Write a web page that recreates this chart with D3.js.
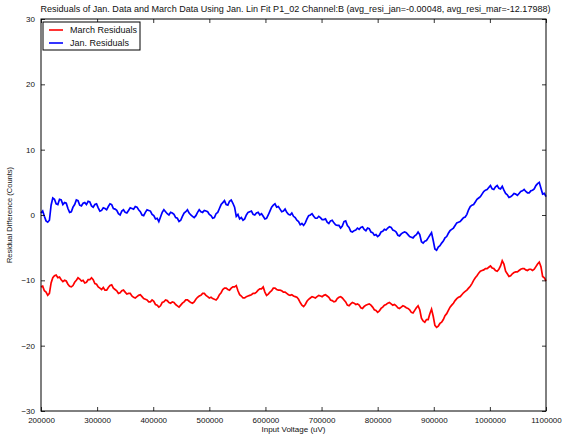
<!DOCTYPE html>
<html><head><meta charset="utf-8">
<script src="https://cdn.jsdelivr.net/npm/d3@7"></script>
<style>body{margin:0;background:#fff}svg{display:block}text{font-family:"Liberation Sans",Arial,sans-serif;fill:#111}</style>
</head><body><svg id="c" width="562" height="436"></svg>
<script>
const title = "Residuals of Jan. Data and March Data Using Jan. Lin Fit P1_02 Channel:B (avg_resi_jan=-0.00048, avg_resi_mar=-12.17988)";
const xLabel = "Input Voltage (uV)";
const yLabel = "Residual Difference (Counts)";
const seriesNames = ["March Residuals", "Jan. Residuals"];
const xTicks = [200000,300000,400000,500000,600000,700000,800000,900000,1000000,1100000];
const yTicks = [-30,-20,-10,0,10,20,30];
const voltage = [
200000,203000,206000,209000,212000,215000,218000,221000,224000,227000,230000,233000,236000,239000,242000,245000,248000,251000,254000,257000,
260000,263000,266000,269000,272000,275000,278000,281000,284000,287000,290000,293000,296000,299000,302000,305000,308000,311000,314000,317000,
320000,323000,326000,329000,332000,335000,338000,341000,344000,347000,350000,353000,356000,359000,362000,365000,368000,371000,374000,377000,
380000,383000,386000,389000,392000,395000,398000,401000,404000,407000,410000,413000,416000,419000,422000,425000,428000,431000,434000,437000,
440000,443000,446000,449000,452000,455000,458000,461000,464000,467000,470000,473000,476000,479000,482000,485000,488000,491000,494000,497000,
500000,503000,506000,509000,512000,515000,518000,521000,524000,527000,530000,533000,536000,539000,542000,545000,548000,551000,554000,557000,
560000,563000,566000,569000,572000,575000,578000,581000,584000,587000,590000,593000,596000,599000,602000,605000,608000,611000,614000,617000,
620000,623000,626000,629000,632000,635000,638000,641000,644000,647000,650000,653000,656000,659000,662000,665000,668000,671000,674000,677000,
680000,683000,686000,689000,692000,695000,698000,701000,704000,707000,710000,713000,716000,719000,722000,725000,728000,731000,734000,737000,
740000,743000,746000,749000,752000,755000,758000,761000,764000,767000,770000,773000,776000,779000,782000,785000,788000,791000,794000,797000,
800000,803000,806000,809000,812000,815000,818000,821000,824000,827000,830000,833000,836000,839000,842000,845000,848000,851000,854000,857000,
860000,863000,866000,869000,872000,875000,878000,881000,884000,887000,890000,893000,896000,899000,902000,905000,908000,911000,914000,917000,
920000,923000,926000,929000,932000,935000,938000,941000,944000,947000,950000,953000,956000,959000,962000,965000,968000,971000,974000,977000,
980000,983000,986000,989000,992000,995000,998000,1001000,1004000,1007000,1010000,1013000,1016000,1019000,1022000,1025000,1028000,1031000,1034000,1037000,
1040000,1043000,1046000,1049000,1052000,1055000,1058000,1061000,1064000,1067000,1070000,1073000,1076000,1079000,1082000,1085000,1088000,1091000,1094000,1097000,1100000];
const janResiduals = [
0.3,0.6,-0.2,-0.9,-1.1,-0.8,1.5,2.6,2.4,1.7,1.6,2.4,2.3,1.6,1.9,1.8,1.0,0.4,0.5,1.2,
1.6,2.3,2.2,1.5,1.4,1.8,1.9,1.6,2.1,2.0,1.4,1.2,1.6,1.7,1.1,0.6,0.7,1.1,1.0,0.8,
1.3,1.7,1.6,1.0,0.9,0.7,0.2,0.0,0.6,0.8,0.4,0.3,0.7,1.1,1.0,0.9,1.3,1.2,0.8,0.5,
0.0,-0.1,0.4,0.8,0.7,0.6,0.1,-0.1,-0.6,-0.5,-1.0,-0.3,0.4,0.8,0.5,0.2,0.0,0.4,0.3,0.1,
-0.4,-0.5,-1.0,-0.8,-0.2,0.3,0.5,0.8,0.3,0.0,-0.2,-0.4,-0.1,0.4,0.8,0.5,0.4,0.7,0.6,0.5,
0.1,-0.1,-0.5,-0.4,0.2,0.4,1.0,1.6,1.9,2.2,1.6,1.5,2.1,2.3,1.8,1.2,-0.2,0.1,-0.6,-0.4,
-0.8,-0.6,0.0,0.4,0.5,0.6,0.1,0.0,0.3,0.4,0.0,0.2,-0.2,-0.6,-0.5,0.0,0.6,1.2,1.5,1.7,
1.2,1.3,0.9,0.5,0.6,0.9,0.4,0.1,0.0,0.3,-0.2,-0.4,-0.8,-1.0,-1.5,-1.3,-1.6,-1.2,-0.6,-0.1,
0.0,0.2,-0.2,-0.5,-0.5,-0.2,-0.4,-0.7,-0.7,-0.6,-1.1,-1.3,-0.9,-0.8,-1.2,-1.5,-1.6,-1.6,-2.0,-1.7,
-1.0,-0.9,-1.6,-1.9,-2.5,-2.6,-2.4,-2.3,-2.0,-2.2,-1.9,-1.8,-2.2,-2.4,-2.0,-2.1,-2.6,-2.7,-3.1,-3.0,
-3.3,-3.1,-2.6,-2.5,-2.2,-2.3,-2.0,-1.8,-1.9,-2.3,-2.4,-2.6,-3.1,-3.2,-2.9,-2.7,-2.6,-2.7,-3.0,-3.3,
-3.4,-3.5,-3.2,-3.0,-2.6,-3.0,-4.1,-4.3,-4.0,-3.9,-3.5,-3.1,-2.7,-3.9,-5.2,-5.4,-4.9,-4.7,-4.3,-4.0,
-3.5,-3.3,-2.8,-2.4,-2.2,-2.0,-1.6,-1.2,-1.1,-1.0,-0.7,-0.4,-0.3,0.1,0.8,1.3,1.5,1.6,2.0,2.4,
2.6,2.8,3.2,3.6,3.8,3.9,4.2,4.5,4.0,3.9,4.3,4.5,4.1,4.0,4.4,3.8,3.3,3.1,2.7,2.8,
3.0,3.3,3.2,3.0,3.3,3.6,3.7,3.9,3.6,3.4,3.4,3.7,3.8,4.0,4.5,4.8,5.0,4.1,3.2,3.3,2.8];
const marResiduals = [
-11.0,-10.9,-11.6,-11.8,-12.3,-12.0,-10.4,-9.6,-9.3,-9.2,-9.6,-9.5,-9.9,-10.2,-10.0,-10.1,-10.6,-10.9,-11.0,-10.8,
-10.3,-10.0,-9.6,-9.8,-10.1,-10.0,-10.4,-10.3,-9.9,-9.9,-9.6,-9.9,-10.5,-10.6,-11.0,-11.2,-11.4,-11.1,-11.5,-11.5,
-11.1,-10.8,-10.7,-11.2,-11.4,-11.6,-12.0,-11.9,-11.6,-11.5,-11.8,-12.1,-12.0,-12.0,-12.4,-12.6,-12.7,-12.5,-12.3,-12.2,
-12.5,-12.8,-12.9,-13.0,-13.3,-13.3,-13.0,-13.2,-13.7,-13.8,-14.1,-13.9,-13.4,-13.3,-13.0,-13.1,-13.4,-13.5,-13.3,-13.4,
-13.7,-13.9,-14.1,-13.8,-13.5,-13.3,-13.0,-13.0,-13.2,-13.4,-13.5,-13.3,-12.9,-12.6,-12.4,-12.3,-12.0,-12.0,-12.3,-12.5,
-12.7,-12.6,-12.8,-12.9,-13.0,-12.7,-12.2,-11.9,-11.4,-11.2,-11.2,-11.4,-11.5,-11.2,-11.0,-11.0,-10.8,-11.6,-12.2,-12.4,
-12.7,-12.7,-12.5,-12.4,-12.3,-12.2,-12.0,-12.0,-11.8,-11.5,-11.3,-11.3,-11.0,-11.8,-12.3,-12.1,-11.8,-11.6,-11.2,-11.2,
-11.4,-11.5,-11.5,-11.6,-11.8,-11.8,-12.0,-12.2,-12.3,-12.2,-12.4,-12.5,-12.6,-12.9,-13.4,-13.8,-14.0,-13.7,-13.2,-12.9,
-12.7,-12.5,-12.6,-12.7,-12.5,-12.3,-12.4,-12.5,-12.3,-12.2,-12.4,-12.6,-13.0,-13.1,-13.3,-13.2,-12.8,-12.6,-12.5,-12.7,
-13.0,-13.3,-13.8,-13.9,-13.6,-13.4,-13.5,-13.7,-13.6,-13.8,-14.2,-14.3,-14.0,-13.8,-13.7,-13.6,-13.8,-14.1,-14.5,-14.6,
-14.9,-14.7,-14.3,-14.1,-13.8,-13.7,-13.5,-13.4,-13.6,-13.8,-13.7,-13.9,-14.2,-14.3,-14.1,-13.9,-14.0,-14.2,-14.3,-14.5,
-14.9,-15.0,-14.6,-14.2,-13.9,-14.5,-15.8,-16.2,-16.4,-16.0,-16.0,-15.1,-14.4,-15.5,-16.9,-17.2,-17.0,-16.6,-16.4,-16.0,
-15.4,-15.1,-14.6,-14.1,-13.8,-13.5,-13.1,-12.8,-12.6,-12.5,-12.2,-11.9,-11.7,-11.5,-11.2,-10.9,-10.5,-10.0,-9.6,-9.3,
-8.9,-8.6,-8.5,-8.4,-8.2,-8.2,-8.0,-7.8,-8.1,-8.2,-8.5,-8.6,-8.3,-7.8,-7.0,-7.5,-8.6,-9.0,-9.4,-9.3,
-9.0,-8.8,-8.7,-8.7,-8.5,-8.3,-8.2,-8.2,-8.4,-8.5,-8.3,-8.3,-8.5,-8.3,-7.9,-7.5,-7.2,-7.9,-9.4,-9.6,-10.1];
const colors = ["#ff0000", "#0000ff"];

const svg = d3.select("#c");
const L = 41, R = 546, T = 19, B = 411;
const x = d3.scaleLinear().domain([200000, 1100000]).range([L, R]);
const y = d3.scaleLinear().domain([-30, 30]).range([B, T]);

const line = d3.line().x(d => x(d[0])).y(d => y(d[1]));
const seriesData = [marResiduals, janResiduals];
seriesData.forEach((vals, i) => {
  svg.append("path").datum(voltage.map((v, k) => [v, vals[k]]))
    .attr("d", line).attr("fill", "none").attr("stroke", colors[i])
    .attr("stroke-width", 1.7).attr("stroke-linejoin", "miter");
});

const fmt = d3.format("d");
const minus = v => (v < 0 ? "\u2212" + Math.abs(v) : String(v));
const gx = svg.append("g").attr("transform", `translate(0,${B})`)
  .call(d3.axisBottom(x).tickValues(xTicks).tickFormat(fmt).tickSize(-4).tickPadding(6));
const gxt = svg.append("g").attr("transform", `translate(0,${T})`)
  .call(d3.axisTop(x).tickValues(xTicks).tickFormat("").tickSize(-4));
const gy = svg.append("g").attr("transform", `translate(${L},0)`)
  .call(d3.axisLeft(y).tickValues(yTicks).tickFormat(minus).tickSize(-4).tickPadding(6));
const gyr = svg.append("g").attr("transform", `translate(${R},0)`)
  .call(d3.axisRight(y).tickValues(yTicks).tickFormat("").tickSize(-4));
[gx, gxt, gy, gyr].forEach(g => {
  g.select(".domain").remove();
  g.selectAll("line").attr("stroke", "#000").attr("stroke-width", 0.8);
  g.selectAll("text").attr("font-size", 8).attr("fill", "#222").style("font-family", '"Liberation Sans",Arial,sans-serif');
});
gy.selectAll("text").attr("dy", "0.32em");

svg.append("rect").attr("x", L).attr("y", T).attr("width", R - L).attr("height", B - T)
  .attr("fill", "none").attr("stroke", "#000").attr("stroke-width", 1);

svg.append("text").attr("x", (L + R) / 2 + 2).attr("y", 12).attr("text-anchor", "middle")
  .attr("font-size", 9).attr("textLength", 510).attr("lengthAdjust", "spacingAndGlyphs").text(title);
svg.append("text").attr("x", (L + R) / 2).attr("y", 432).attr("text-anchor", "middle")
  .attr("font-size", 8).text(xLabel);
svg.append("text").attr("transform", `translate(12,${(T + B) / 2}) rotate(-90)`)
  .attr("text-anchor", "middle").attr("font-size", 7.5).attr("fill", "#333").text(yLabel);

const lg = svg.append("g");
lg.append("rect").attr("x", 43).attr("y", 22).attr("width", 97).attr("height", 28)
  .attr("fill", "#fff").attr("stroke", "#000").attr("stroke-width", 1);
seriesNames.forEach((n, i) => {
  const yy = 30 + i * 13;
  lg.append("line").attr("x1", 49).attr("x2", 63).attr("y1", yy).attr("y2", yy)
    .attr("stroke", colors[i]).attr("stroke-width", 1.6);
  lg.append("text").attr("x", 70).attr("y", yy + 3).attr("font-size", 9).text(n);
});
</script></body></html>
